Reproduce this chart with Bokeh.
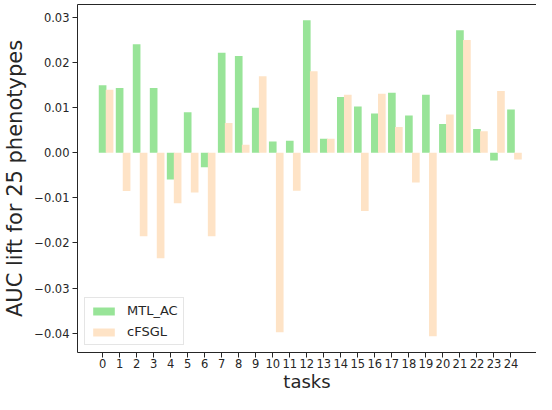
from bokeh.plotting import figure
from bokeh.models import (ColumnDataSource, Range1d, FixedTicker, LinearAxis,
                          CustomJSTickFormatter, Legend, LegendItem)
from bokeh.embed import file_html
from bokeh.resources import INLINE

tasks = list(range(25))
tick_labels = [str(t) for t in tasks]
mtl_ac = [0.0150, 0.0144, 0.0241, 0.0144, -0.0059, 0.0090, -0.0032, 0.0222, 0.0215,
          0.0100, 0.0025, 0.0027, 0.0294, 0.0031, 0.0124, 0.0103, 0.0087, 0.0133,
          0.0083, 0.0129, 0.0064, 0.0272, 0.0053, -0.0017, 0.0096]
cfsgl = [0.0140, -0.0085, -0.0185, -0.0234, -0.0112, -0.0088, -0.0185, 0.0066, 0.0018,
         0.0170, -0.0398, -0.0084, 0.0181, 0.0031, 0.0129, -0.0129, 0.0131, 0.0057,
         -0.0066, -0.0407, 0.0085, 0.0250, 0.0048, 0.0137, -0.0015]

BAR_W = 0.45
OFFSET = 0.41
GREEN = "#98e498"
PEACH = "#fee3c6"

src = ColumnDataSource(dict(
    x1=tasks, x2=[t + OFFSET for t in tasks], mtl=mtl_ac, cf=cfsgl))

p = figure(width=536, height=394, output_backend="svg", toolbar_location=None,
           x_range=Range1d(-1.475, 25.5), y_range=Range1d(-0.0443, 0.0329),
           min_border_left=74, min_border_right=0, min_border_top=4, min_border_bottom=30)
p.outline_line_color = None
p.outline_line_alpha = 0
p.grid.visible = False
p.background_fill_color = "white"
p.border_fill_color = "white"

r1 = p.vbar(x="x1", top="mtl", bottom=0, width=BAR_W, source=src,
            fill_color=GREEN, line_color=None)
r2 = p.vbar(x="x2", top="cf", bottom=0, width=BAR_W, source=src,
            fill_color=PEACH, line_color=None)

AX = "#262626"
xa = p.xaxis[0]
xa.ticker = FixedTicker(ticks=tasks)
xa.major_label_overrides = {t: l for t, l in zip(tasks, tick_labels)}
xa.axis_label = "tasks"
xa.axis_label_text_font = "DejaVu Sans"
xa.axis_label_text_font_size = "18px"
xa.axis_label_text_font_style = "normal"
xa.axis_label_text_color = AX
xa.axis_label_standoff = 0
xa.major_label_text_font = "DejaVu Sans"
xa.major_label_text_font_size = "11.5px"
xa.major_label_text_color = AX
xa.major_label_standoff = 1
xa.major_tick_out = 5
xa.major_tick_in = 0
xa.minor_tick_line_color = None
xa.axis_line_color = AX
xa.major_tick_line_color = AX

ya = p.yaxis[0]
ya.ticker = FixedTicker(ticks=[-0.04, -0.03, -0.02, -0.01, 0.0, 0.01, 0.02, 0.03])
ya.formatter = CustomJSTickFormatter(
    code="var v = Math.round(tick*100)/100; return (v < 0 ? '\\u2212' : '') + Math.abs(v).toFixed(2);")
ya.axis_label = "AUC lift for 25 phenotypes"
ya.axis_label_text_font = "DejaVu Sans"
ya.axis_label_text_font_size = "21px"
ya.axis_label_text_font_style = "normal"
ya.axis_label_text_color = AX
ya.axis_label_standoff = 4
ya.major_label_text_font = "DejaVu Sans"
ya.major_label_text_font_size = "11.5px"
ya.major_label_text_color = AX
ya.major_label_standoff = 3
ya.major_tick_out = 5
ya.major_tick_in = 0
ya.minor_tick_line_color = None
ya.axis_line_color = AX
ya.major_tick_line_color = AX

top = LinearAxis(ticker=FixedTicker(ticks=[]), major_label_text_font_size="0px",
                 major_tick_line_color=None, minor_tick_line_color=None,
                 axis_line_color=AX)
p.add_layout(top, "above")

legend = Legend(items=[LegendItem(label="MTL_AC", renderers=[r1]),
                       LegendItem(label="cFSGL", renderers=[r2])],
                location=(7, 7))
legend.label_text_font = "DejaVu Sans"
legend.label_text_font_size = "13px"
legend.label_text_color = AX
legend.glyph_width = 27
legend.glyph_height = 10
legend.label_standoff = 10
legend.label_height = 14
legend.spacing = 6
legend.padding = 5
legend.margin = 0
legend.border_line_color = "#cccccc"
legend.border_line_width = 1
legend.background_fill_alpha = 0.8
p.add_layout(legend)

open("out.html", "w").write(file_html(p, INLINE))
